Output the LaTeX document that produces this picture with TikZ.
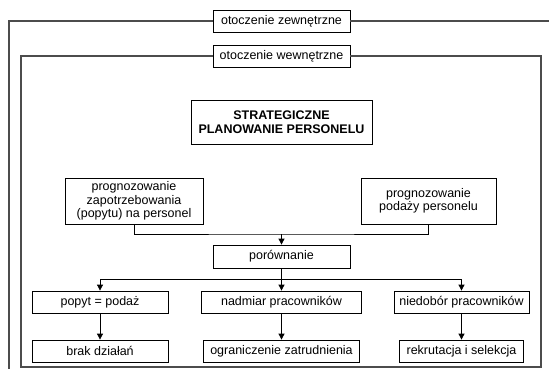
\documentclass[tikz,border=0pt]{standalone}
\usepackage{fontspec}
\setmainfont{Liberation Sans}
\usetikzlibrary{arrows.meta}
\tikzset{
	box/.style={draw,line width=0.8pt,minimum height=22pt,inner sep=1pt,align=center,font=\fontsize{12.5}{13.5}\selectfont},
	frame/.style={draw=black!70,line width=1.2pt},
	arr/.style={-{Triangle[length=6pt,width=6pt]},line width=0.8pt},
	link/.style={line width=0.8pt}
}
\begin{document}
\begin{tikzpicture}[x=1pt,y=-1pt]
	\useasboundingbox (0,0) rectangle (549,369);
	\clip (0,0) rectangle (549,369);
	\node[box,minimum width=137pt] (zewn) at (281.5,21) {otoczenie zewnętrzne};
	\node[box,minimum width=137pt] (wewn) at (281.5,56) {otoczenie wewnętrzne};
	\node[box,minimum width=181pt,minimum height=44pt,font=\fontsize{12.5}{14}\selectfont\bfseries] (strat) at (281.5,122) {STRATEGICZNE\\PLANOWANIE PERSONELU};
	\node[box,minimum width=138pt,minimum height=46pt] (popyt1) at (134,201) {prognozowanie\\zapotrzebowania\\(popytu) na personel};
	\node[box,minimum width=135pt,minimum height=46pt] (podaz1) at (428.5,201) {prognozowanie\\podaży personelu};
	\node[box,minimum width=137pt,minimum height=23pt] (por) at (281.5,256.5) {porównanie};
	\node[box,minimum width=136pt] (rowne) at (100,302) {popyt = podaż};
	\node[box,minimum width=160pt] (nadmiar) at (281.5,302) {nadmiar pracowników};
	\node[box,minimum width=135pt] (niedobor) at (461.5,302) {niedobór pracowników};
	\node[box,minimum width=136pt] (brak) at (100,351) {brak działań};
	\node[box,minimum width=156pt] (ogr) at (281.5,351) {ograniczenie zatrudnienia};
	\node[box,minimum width=124pt] (rekr) at (461.5,351) {rekrutacja i selekcja};
	% ramki otoczenia
	\coordinate (zewnL) at (9,380);
	\coordinate (zewnR) at (560,21);
	\coordinate (wewnL) at (21,367);
	\coordinate (wewnR) at (541,56);
	\draw[frame] (zewn) -| (zewnL);
	\draw[frame] (zewn) -- (zewnR);
	\draw[frame] (wewn) -| (wewnL) -| (wewnR) -- (wewn);
	% polaczenia
	\coordinate (merge) at (281.5,234);
	\coordinate (split) at (281.5,279);
	\draw[link] (popyt1) |- (merge) -| (podaz1);
	\draw[arr] (merge) -- (por);
	\draw[link] (por) -- (split);
	\draw[arr] (split) -| (rowne);
	\draw[arr] (split) -- (nadmiar);
	\draw[arr] (split) -| (niedobor);
	\draw[arr] (rowne) -- (brak);
	\draw[arr] (nadmiar) -- (ogr);
	\draw[arr] (niedobor) -- (rekr);
\end{tikzpicture}
\end{document}
